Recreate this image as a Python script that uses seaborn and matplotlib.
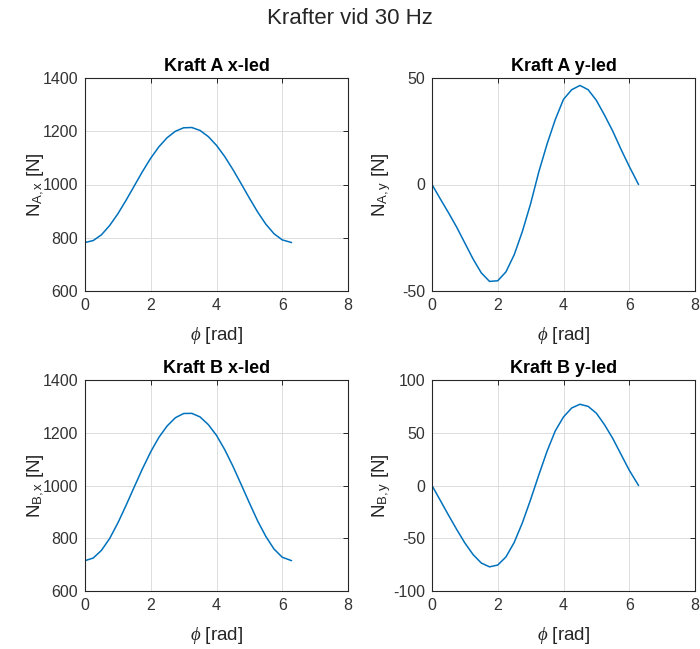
import numpy as np
import pandas as pd
import matplotlib
matplotlib.use("Agg")
import matplotlib.pyplot as plt
import seaborn as sns

# ---- data ----
phi = [0, 0.25, 0.5, 0.75, 1.0, 1.25, 1.5, 1.75, 2.0, 2.25, 2.5, 2.75, 3.0,
       3.25, 3.5, 3.75, 4.0, 4.25, 4.5, 4.75, 5.0, 5.25, 5.5, 5.75, 6.0, 6.283]

force_ax = [782, 789.5, 811, 846, 890, 941, 995, 1049, 1099, 1142, 1176, 1200, 1213,
            1214, 1203, 1180, 1147, 1105, 1056, 1003, 949, 897, 851, 815, 792, 782]
force_ay = [0, -6.7, -13.2, -20, -27.5, -35, -41.5, -45.5, -45.2, -41, -33, -22, -9,
            6, 19, 30.5, 40, 44.5, 46.5, 44.5, 39.5, 32.5, 25, 16.5, 8.5, 0]
force_bx = [715, 725, 754, 799, 858, 925, 995, 1064, 1128, 1183, 1226, 1257, 1273,
            1273.5, 1260, 1231, 1190, 1136, 1073, 1004, 934, 866, 807, 759, 728, 715]
force_by = [0, -14, -28, -41.6, -54.5, -65.5, -73.5, -77.1, -75.4, -67.7, -54, -35.3, -13.3,
            10.1, 32.5, 51.8, 65, 73.5, 77, 75, 68.5, 57.5, 44.5, 29.5, 14.5, 0]

titles = ["Kraft A x-led", "Kraft A y-led", "Kraft B x-led", "Kraft B y-led"]
ylabels = [r"N$_{\mathrm{A,x}}$ [N]", r"N$_{\mathrm{A,y}}$ [N]",
           r"N$_{\mathrm{B,x}}$ [N]", r"N$_{\mathrm{B,y}}$ [N]"]
yticks = [[600, 800, 1000, 1200, 1400], [-50, 0, 50],
          [600, 800, 1000, 1200, 1400], [-100, -50, 0, 50, 100]]
xticks = [0, 2, 4, 6, 8]
suptitle = "Krafter vid 30 Hz"

# ---- style ----
sns.set_theme(style="whitegrid")
plt.rcParams["font.family"] = ["Liberation Sans", "DejaVu Sans"]
plt.rcParams["mathtext.fontset"] = "custom"
plt.rcParams["mathtext.rm"] = "Liberation Sans"
plt.rcParams["mathtext.it"] = "Liberation Serif:italic"
plt.rcParams["axes.unicode_minus"] = False

dark = "#262626"
blue = "#0072BD"

fig = plt.figure(figsize=(7.0, 6.49), dpi=100)
fig.patch.set_facecolor("white")

W, H = 700.0, 649.0
boxes = [(85, 78, 348, 291), (432, 78, 695, 291),
         (85, 380, 348, 591), (432, 380, 695, 591)]

series = [force_ax, force_ay, force_bx, force_by]

for i, (l, t, r, b) in enumerate(boxes):
    ax = fig.add_axes([l / W, 1 - b / H, (r - l) / W, (b - t) / H])
    df = pd.DataFrame({"phi": phi, "F": series[i]})
    sns.lineplot(data=df, x="phi", y="F", ax=ax, color=blue, linewidth=1.1)
    ax.set_xlim(0, 8)
    yt = yticks[i]
    ax.set_ylim(yt[0], yt[-1])
    ax.set_xticks(xticks)
    ax.set_yticks(yt)
    ax.set_facecolor("white")
    ax.grid(True, color="#dddddd", linewidth=0.7)
    for s in ax.spines.values():
        s.set_visible(True)
        s.set_color(dark)
        s.set_linewidth(0.8)
    ax.tick_params(axis="both", which="both", direction="in", length=3.5,
                   width=0.7, color=dark, labelcolor="#333333", labelsize=11.5,
                   top=True, right=True, pad=5)
    ax.set_title(titles[i], fontsize=13, fontweight="bold", color="#000000", pad=5)
    ax.set_xlabel(r"$\phi$ [rad]", fontsize=13.5, color=dark)
    ax.set_ylabel(ylabels[i], fontsize=13.5, color=dark)
    h = (b - t)
    ax.xaxis.set_label_coords(0.5, -34.0 / h)
    ax.yaxis.set_label_coords(-39.0 / (r - l), 0.5)

fig.suptitle(suptitle, fontsize=16, color=dark, y=1 - 18.0 / H, va="center")

fig.savefig("out.png", dpi=100, facecolor="white")
